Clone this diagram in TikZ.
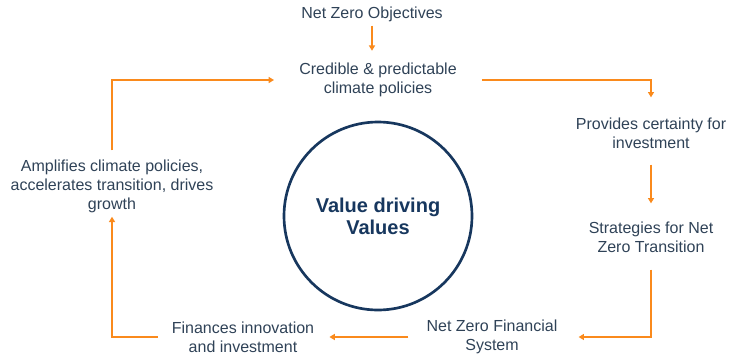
\documentclass[tikz,border=0pt]{standalone}
\usepackage{fontspec}
\setmainfont{Liberation Sans}
\usetikzlibrary{arrows.meta,calc}
\definecolor{flow}{HTML}{FA8A1C}
\definecolor{ink}{HTML}{2F4257}
\definecolor{navy}{HTML}{17375E}

\begin{document}
\begin{tikzpicture}[x=0.75pt,y=-0.75pt,
  every node/.style={inner sep=0pt,text=ink,align=center,font=\fontsize{12}{14.25}\selectfont},
  flowline/.style={draw=flow,line width=1.4pt,->},
  >={Triangle[length=4pt,width=4.5pt]}]
\useasboundingbox (0,0) rectangle (729,358);
% the steps round the loop
\node (obj) at (372,14) {Net Zero Objectives};
\node (cred) at (378,80) {Credible \& predictable\\climate policies};
\node (cert) at (651,133) {Provides certainty for\\investment};
\node (strat) at (651,237) {Strategies for Net\\Zero Transition};
\node (fin) at (492,337) {Net Zero Financial\\System};
\node (innov) at (243,337) {Finances innovation\\and investment};
\node (ampl) at (112,186) {Amplifies climate policies,\\accelerates transition, drives\\growth};
% centre
\node[circle,draw=navy,line width=2pt,minimum size=141pt,text=navy,
  font=\bfseries\fontsize{15}{16.5}\selectfont] (core) at (378,216) {Value driving\\Values};
% arrows
\draw[flowline]($(obj.south)+(0,4)$)--($(obj.south|-cred.north)+(0,-12)$);
\draw[flowline]($(cred.east)+(25,0)$)-|($(cert.north)+(0,-20)$);
\draw[flowline]($(cert.south)+(0,16)$)--($(strat.north)+(0,-18)$);
\draw[flowline]($(strat.south)+(0,17)$)|-($(fin.east)+(21,0)$);
\draw[flowline]($(fin.west)+(-18,0)$)--($(innov.east)+(15,0)$);
\draw[flowline]($(innov.west)+(-14,0)$)-|($(ampl.south)+(0,4)$);
\draw[flowline]($(ampl.north)+(0,-9)$)|-($(cred.west)+(-25,0)$);
\end{tikzpicture}
\end{document}
